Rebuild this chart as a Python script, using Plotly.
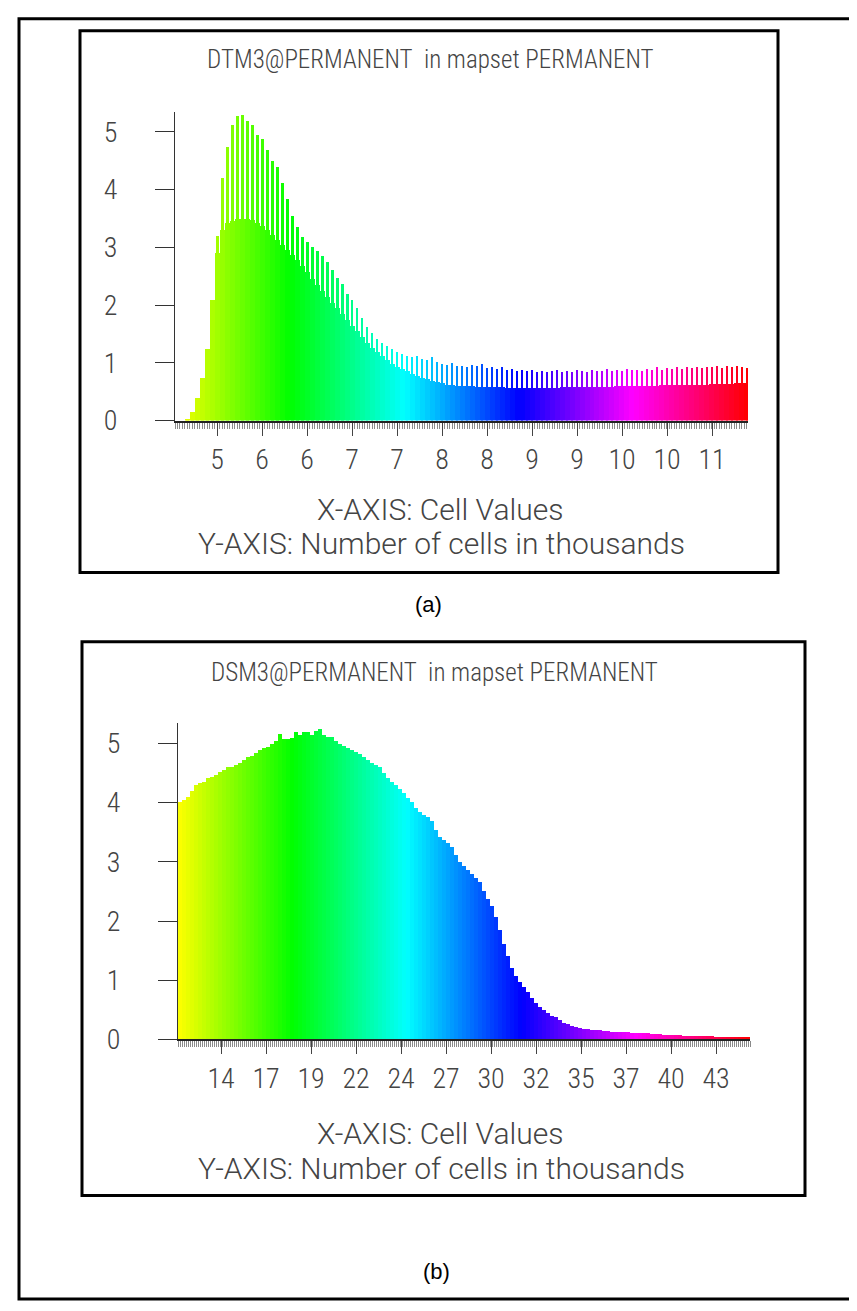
import plotly.graph_objects as go

W, H = 857, 1311

# ---------------- Panel (a): DTM3 histogram ----------------
dtm_title = "DTM3@PERMANENT\u00a0 in mapset PERMANENT"
dtm_bin_start = 4.56
dtm_bin_step = 0.0555
dtm_range = [4.533, 10.9]
# lower solid body of each bin group (thousands of cells)
dtm_body = [0, 0, 0.03, 0.15, 0.4, 0.75, 1.25, 2.1, 2.9, 3.3,
            3.42, 3.46, 3.5, 3.5, 3.5, 3.48, 3.43, 3.38, 3.3, 3.22,
            3.13, 3.04, 2.96, 2.88, 2.78, 2.68, 2.58, 2.45, 2.35, 2.25,
            2.15, 2.05, 1.95, 1.85, 1.75, 1.65, 1.55, 1.45, 1.35, 1.27,
            1.2, 1.12, 1.05, 0.99, 0.94, 0.9, 0.86, 0.82, 0.78, 0.75,
            0.72, 0.7, 0.67, 0.65, 0.63, 0.62, 0.61, 0.6, 0.6, 0.6,
            0.59, 0.59, 0.58, 0.58, 0.58, 0.58, 0.57, 0.57, 0.57, 0.57,
            0.57, 0.57, 0.57, 0.57, 0.57, 0.57, 0.57, 0.58, 0.58, 0.58,
            0.58, 0.58, 0.58, 0.58, 0.59, 0.59, 0.59, 0.59, 0.6, 0.6,
            0.6, 0.6, 0.6, 0.61, 0.61, 0.61, 0.61, 0.62, 0.62, 0.62,
            0.62, 0.62, 0.63, 0.63, 0.63, 0.63, 0.63, 0.64, 0.64, 0.64,
            0.64, 0.64, 0.65, 0.65, 0.65]
# taller spike bins interleaved with the body
dtm_spike = [0, 0, 0.03, 0.15, 0.4, 0.75, 1.25, 2.1, 3.2, 4.2,
             4.75, 5.12, 5.28, 5.3, 5.2, 5.12, 4.95, 4.88, 4.7, 4.5,
             4.4, 4.12, 3.85, 3.55, 3.35, 3.18, 3.1, 3.02, 2.95, 2.85,
             2.76, 2.62, 2.48, 2.37, 2.2, 2.1, 1.95, 1.78, 1.62, 1.52,
             1.42, 1.35, 1.3, 1.24, 1.2, 1.16, 1.12, 1.1, 1.13, 1.08,
             1.06, 1.1, 1.02, 0.98, 0.97, 1.0, 0.95, 0.96, 0.93, 0.97,
             0.95, 0.98, 0.92, 0.94, 0.9, 0.93, 0.88, 0.9, 0.87, 0.88,
             0.86, 0.89, 0.85, 0.87, 0.84, 0.86, 0.88, 0.85, 0.87, 0.84,
             0.88, 0.86, 0.85, 0.89, 0.86, 0.87, 0.9, 0.86, 0.88, 0.87,
             0.9, 0.88, 0.89, 0.87, 0.9, 0.89, 0.93, 0.88, 0.91, 0.9,
             0.93, 0.9, 0.94, 0.92, 0.93, 0.91, 0.94, 0.93, 0.95, 0.92,
             0.95, 0.93, 0.95, 0.93, 0.92]
dtm_tick_values = [5.0, 5.5, 6.0, 6.5, 7.0, 7.5, 8.0, 8.5, 9.0, 9.5, 10.0, 10.5]
dtm_tick_labels = ["5", "6", "6", "7", "7", "8", "8", "9", "9", "10", "10", "11"]

# ---------------- Panel (b): DSM3 histogram ----------------
dsm_title = "DSM3@PERMANENT\u00a0 in mapset PERMANENT"
dsm_bin_start = 11.5315
dsm_bin_step = 0.2311
dsm_range = [11.416, 44.46]
dsm_counts = [4.02, 4.05, 4.1, 4.2, 4.3, 4.33, 4.36, 4.42, 4.44, 4.47,
              4.52, 4.55, 4.6, 4.6, 4.64, 4.67, 4.72, 4.77, 4.8, 4.85,
              4.9, 4.92, 4.95, 5.0, 5.05, 5.17, 5.08, 5.08, 5.1, 5.2,
              5.15, 5.2, 5.2, 5.15, 5.22, 5.25, 5.15, 5.12, 5.12, 5.05,
              5.0, 4.97, 4.93, 4.9, 4.86, 4.83, 4.78, 4.72, 4.68, 4.64,
              4.6, 4.5, 4.42, 4.36, 4.3, 4.24, 4.16, 4.08, 4.02, 3.92,
              3.84, 3.8, 3.76, 3.7, 3.55, 3.42, 3.38, 3.32, 3.26, 3.12,
              3.0, 2.94, 2.87, 2.8, 2.74, 2.66, 2.52, 2.38, 2.26, 2.08,
              1.85, 1.62, 1.42, 1.22, 1.08, 0.98, 0.9, 0.8, 0.7, 0.62,
              0.56, 0.5, 0.45, 0.41, 0.38, 0.33, 0.29, 0.26, 0.23, 0.21,
              0.2, 0.19, 0.18, 0.17, 0.16, 0.16, 0.15, 0.15, 0.14, 0.14,
              0.13, 0.13, 0.13, 0.12, 0.12, 0.12, 0.11, 0.11, 0.1, 0.1,
              0.1, 0.09, 0.09, 0.08, 0.08, 0.08, 0.07, 0.07, 0.07, 0.07,
              0.06, 0.06, 0.06, 0.06, 0.05, 0.05, 0.05, 0.05, 0.05, 0.04,
              0.04, 0.04, 0.04]
dsm_tick_values = [13.9, 16.5, 19.1, 21.7, 24.3, 26.9, 29.5, 32.1, 34.7, 37.3, 39.9, 42.5]
dsm_tick_labels = ["14", "17", "19", "22", "24", "27", "30", "32", "35", "37", "40", "43"]

y_tick_values = [0, 1, 2, 3, 4, 5]
x_axis_text = "X-AXIS: Cell Values"
y_axis_text = "Y-AXIS: Number of cells in thousands"
captions = ["(a)", "(b)"]

# ---------------- helpers ----------------
RAINBOW = [(0.0, (255, 255, 0)), (0.2, (0, 255, 0)), (0.4, (0, 255, 255)),
           (0.6, (0, 0, 255)), (0.8, (255, 0, 255)), (1.0, (255, 0, 0))]


def rainbow(f):
    f = min(max(f, 0.0), 1.0)
    for (f0, c0), (f1, c1) in zip(RAINBOW[:-1], RAINBOW[1:]):
        if f <= f1:
            t = (f - f0) / (f1 - f0)
            c = [round(a + (b - a) * t) for a, b in zip(c0, c1)]
            return "rgb(%d,%d,%d)" % tuple(c)
    return "rgb(255,0,0)"


def px(x):
    return x / W


def py(y):
    return 1 - y / H


FONT_C = "Roboto Condensed, DejaVu Sans Condensed, sans-serif"
FONT_R = "Roboto, DejaVu Sans, sans-serif"
FW = 300
TXT = "#444444"

fig = go.Figure()
dtm_x = [dtm_bin_start + i * dtm_bin_step for i in range(len(dtm_body))]
dtm_cols = [rainbow((x - dtm_range[0]) / (dtm_range[1] - dtm_range[0])) for x in dtm_x]
fig.add_trace(go.Bar(x=dtm_x, y=dtm_body, width=dtm_bin_step, marker=dict(color=dtm_cols, line=dict(width=0)),
                     xaxis="x", yaxis="y", showlegend=False))
fig.add_trace(go.Bar(x=dtm_x, y=dtm_spike, width=dtm_bin_step * 0.5, marker=dict(color=dtm_cols, line=dict(width=0)),
                     xaxis="x", yaxis="y", showlegend=False))
dsm_x = [dsm_bin_start + i * dsm_bin_step for i in range(len(dsm_counts))]
dsm_cols = [rainbow((x - dsm_range[0]) / (dsm_range[1] - dsm_range[0])) for x in dsm_x]
fig.add_trace(go.Bar(x=dsm_x, y=dsm_counts, width=dsm_bin_step, marker=dict(color=dsm_cols, line=dict(width=0)),
                     xaxis="x2", yaxis="y2", showlegend=False))

tickfont = dict(family=FONT_C, size=28, color=TXT, weight=FW)
common_x = dict(showgrid=False, zeroline=False, showline=True, linecolor="#222222", linewidth=2,
                ticks="outside", ticklen=13, tickcolor="#444444", tickwidth=1,
                tickfont=tickfont, tickmode="array")
common_y = dict(showgrid=False, zeroline=False, showline=True, linecolor="#333333", linewidth=1,
                ticks="outside", ticklen=19, tickcolor="#333333", tickwidth=1,
                tickfont=tickfont, tickmode="array",
                tickvals=y_tick_values, ticktext=[str(v) for v in y_tick_values],
                ticklabelstandoff=32, range=[0, 5.35])

fig.update_layout(
    width=W, height=H, margin=dict(l=0, r=0, t=0, b=0),
    paper_bgcolor="white", plot_bgcolor="white",
    barmode="overlay", bargap=0,
    xaxis=dict(common_x, domain=[px(167), px(740)], range=dtm_range, anchor="y",
               tickvals=dtm_tick_values, ticktext=dtm_tick_labels,
               minor=dict(ticks="outside", ticklen=6, tickcolor="#8a8a8a", tickwidth=1,
                          dtick=dtm_bin_step * 0.5, tick0=dtm_range[0])),
    yaxis=dict(common_y, domain=[py(418), py(105)], anchor="x"),
    xaxis2=dict(common_x, domain=[px(170), px(742)], range=dsm_range, anchor="y2",
                tickvals=dsm_tick_values, ticktext=dsm_tick_labels,
                minor=dict(ticks="outside", ticklen=6, tickcolor="#8a8a8a", tickwidth=1,
                           dtick=dsm_bin_step * 0.5, tick0=dsm_range[0])),
    yaxis2=dict(common_y, domain=[py(1045), py(724)], anchor="x2"),
)

shapes = []
# outer frame
shapes.append(dict(type="rect", xref="paper", yref="paper", x0=px(11), x1=px(852), y0=py(1308), y1=py(11),
                   line=dict(color="black", width=3)))
# panel frames
shapes.append(dict(type="rect", xref="paper", yref="paper", x0=px(72), x1=px(770), y0=py(572), y1=py(23),
                   line=dict(color="black", width=3)))
shapes.append(dict(type="rect", xref="paper", yref="paper", x0=px(74), x1=px(797), y0=py(1203), y1=py(642),
                   line=dict(color="black", width=3)))
fig.update_layout(shapes=shapes)

ann = []


def text(x, y, s, size=28, color=TXT, family=FONT_C, weight=FW):
    ann.append(dict(xref="paper", yref="paper", x=px(x), y=py(y), text=s, showarrow=False,
                    xanchor="center", yanchor="middle",
                    font=dict(family=family, size=size, color=color, weight=weight)))


text(422, 52, dtm_title, size=25)
text(432, 508, x_axis_text, size=30, family=FONT_R)
text(433, 543, y_axis_text, size=30, family=FONT_R)
text(420, 604, captions[0], size=22, color="black", family="Liberation Sans, Arial, sans-serif", weight="normal")

text(426, 673, dsm_title, size=25)
text(432, 1140, x_axis_text, size=30, family=FONT_R)
text(433, 1176, y_axis_text, size=30, family=FONT_R)
text(428, 1280, captions[1], size=22, color="black", family="Liberation Sans, Arial, sans-serif", weight="normal")
fig.update_layout(annotations=ann)

fig.write_html("out.html")
